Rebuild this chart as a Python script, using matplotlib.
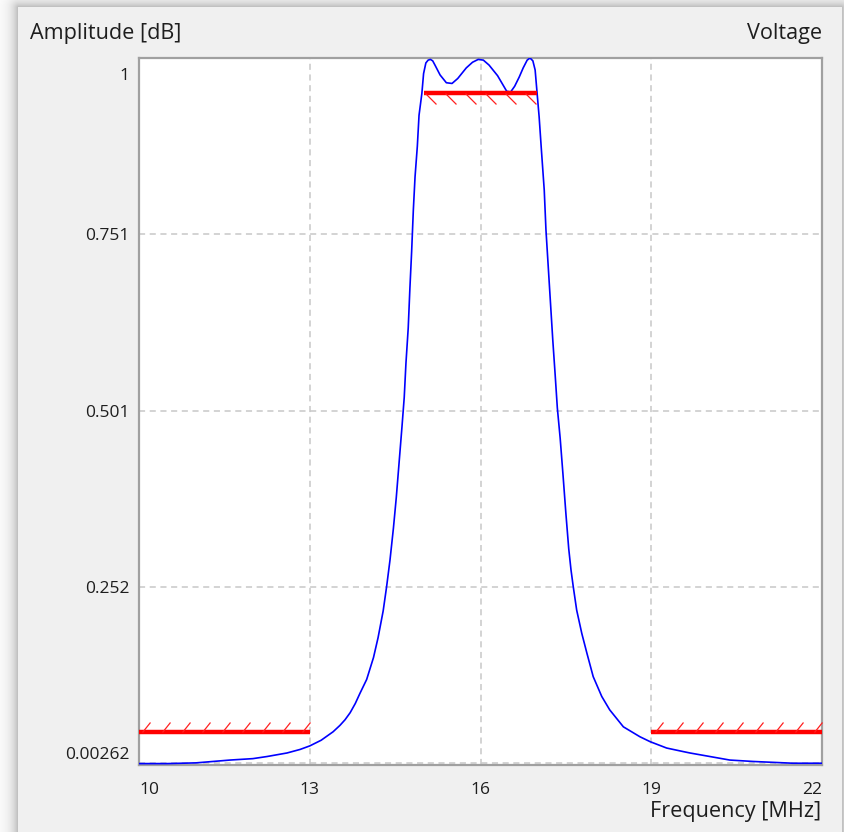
import matplotlib
matplotlib.use("Agg")
import matplotlib.pyplot as plt
import numpy as np
from matplotlib.path import Path
from matplotlib.transforms import ScaledTranslation

# response curve (MHz, linear amplitude)
freq = [10.0, 10.5, 11.0, 11.3, 11.6, 12.0, 12.25, 12.6, 12.83, 13.0,
        13.2, 13.41, 13.53, 13.62, 13.71, 13.8, 13.88, 14.0, 14.12, 14.2,
        14.29, 14.35, 14.41, 14.47, 14.52, 14.57, 14.62, 14.66, 14.69, 14.73,
        14.76, 14.79, 14.82, 14.85, 14.89, 14.92, 14.97, 15.0, 15.04, 15.08,
        15.12, 15.16, 15.2, 15.29, 15.4, 15.5, 15.6, 15.75, 15.86, 15.96,
        16.05, 16.15, 16.22, 16.3, 16.46, 16.53, 16.6, 16.68, 16.75, 16.82,
        16.87, 16.92, 16.96, 17.0, 17.03, 17.07, 17.12, 17.15, 17.19, 17.23,
        17.27, 17.31, 17.35, 17.4, 17.45, 17.5, 17.55, 17.59, 17.63, 17.69,
        17.78, 17.87, 17.98, 18.13, 18.27, 18.51, 18.8, 18.98, 19.27, 19.56,
        19.68, 20.03, 20.38, 20.79, 21.49, 22.0]
amp = [0.002, 0.002, 0.003, 0.005, 0.007, 0.009, 0.012, 0.017, 0.022, 0.027,
       0.035, 0.047, 0.056, 0.064, 0.074, 0.087, 0.101, 0.121, 0.152, 0.180,
       0.218, 0.252, 0.290, 0.335, 0.378, 0.428, 0.478, 0.520, 0.568, 0.618,
       0.675, 0.726, 0.785, 0.832, 0.875, 0.919, 0.950, 0.978, 0.993, 0.997,
       0.998, 0.996, 0.990, 0.976, 0.965, 0.964, 0.971, 0.986, 0.994, 0.998,
       0.997, 0.990, 0.983, 0.975, 0.953, 0.952, 0.960, 0.973, 0.986, 0.997,
       1.0, 0.996, 0.983, 0.945, 0.917, 0.870, 0.813, 0.757, 0.705, 0.653,
       0.601, 0.554, 0.505, 0.462, 0.410, 0.356, 0.306, 0.276, 0.252, 0.219,
       0.186, 0.158, 0.125, 0.097, 0.078, 0.054, 0.040, 0.033, 0.024, 0.019,
       0.017, 0.012, 0.007, 0.005, 0.0025, 0.0025]

# spec masks: passband (must stay above) and stopbands (must stay below)
pass_band = (15.0, 17.0)
pass_level = 0.95
stop_bands = [(10.0, 13.0), (19.0, 22.0)]
stop_level = 0.047

xticks = [10, 13, 16, 19, 22]
yticks = [0.00262, 0.252, 0.501, 0.751, 1]
ytick_labels = ["0.00262", "0.252", "0.501", "0.751", "1"]

W, H = 844, 832
plt.rcParams['font.family'] = ['Open Sans', 'DejaVu Sans']
text_col = '#1e1e1e'

fig = plt.figure(figsize=(W / 100, H / 100), dpi=100)

# window background with a soft drop shadow on the screenshot edges
yy, xx = np.mgrid[0:H, 0:W]
dx = np.maximum(np.maximum(18 - xx, xx - 841), 0)
dy = np.maximum(7 - yy, 0)
d = np.hypot(dx, dy)
bg = np.where(d > 0, 1 - 0.28 * np.exp(-d / 7), 240 / 255)
fig.figimage(np.dstack([bg, bg, bg]), xo=0, yo=0, origin='upper', zorder=-10)

ax = fig.add_axes([139 / W, 1 - 765 / H, (822 - 139) / W, (765 - 58) / H])
ax.set_facecolor('white')
ax.set_xlim(10, 22)
ax.set_ylim(0.0, 1.0)

ax.plot(freq, amp, color='#0000ff', lw=1.2, zorder=3)

# spec lines + hatch ticks
down_tick = Path([(0, 0), (1, -1)])
up_tick = Path([(0, 0), (0.8, 1)])
ax.plot(pass_band, [pass_level] * 2, color='#ff0000', lw=3.2,
        solid_capstyle='butt', zorder=4)
hx = np.arange(pass_band[0] + 0.03, pass_band[1], 0.351)
ax.plot(hx, [pass_level] * len(hx), ls='none', marker=down_tick, ms=15.8,
        mec='#ff2020', mew=0.9, zorder=4)
for lo, hi in stop_bands:
    ax.plot([lo, hi], [stop_level] * 2, color='#ff0000', lw=3.2,
            solid_capstyle='butt', zorder=4)
    sx = np.arange(lo + 0.06, hi, 0.351)
    ax.plot(sx, [stop_level] * len(sx), ls='none', marker=up_tick, ms=14.4,
            mec='#ff2020', mew=0.9, zorder=4, clip_on=False)

ax.set_xticks(xticks)
ax.set_xticklabels([str(t) for t in xticks])
ax.set_yticks(yticks)
ax.set_yticklabels(ytick_labels)
ax.tick_params(length=0, labelsize=12.5, labelcolor=text_col)
ax.tick_params(axis='x', pad=12)
ax.tick_params(axis='y', pad=7)
ax.grid(True, color='#c8c8c8', ls=(0, (4, 3)), lw=1.1)
ax.set_axisbelow(True)
for s in ax.spines.values():
    s.set_color('#a0a0a0')
    s.set_linewidth(1.6)

xl = ax.get_xticklabels()
xl[0].set_ha('left')
xl[-1].set_ha('right')
yl = ax.get_yticklabels()
yl[0].set_va('bottom')
yl[-1].set_va('top')
yl[-1].set_transform(yl[-1].get_transform() +
                     ScaledTranslation(0, -7 / 72, fig.dpi_scale_trans))

fig.text(30 / W, 1 - 33 / H, "Amplitude [dB]", ha='left', va='center',
         fontsize=15.6, color=text_col)
fig.text(822 / W, 1 - 33 / H, "Voltage", ha='right', va='center',
         fontsize=15.6, color=text_col)
fig.text(821 / W, 1 - 812 / H, "Frequency [MHz]", ha='right', va='center',
         fontsize=15.6, color=text_col)

fig.savefig("out.png", dpi=100)
plt.close(fig)
